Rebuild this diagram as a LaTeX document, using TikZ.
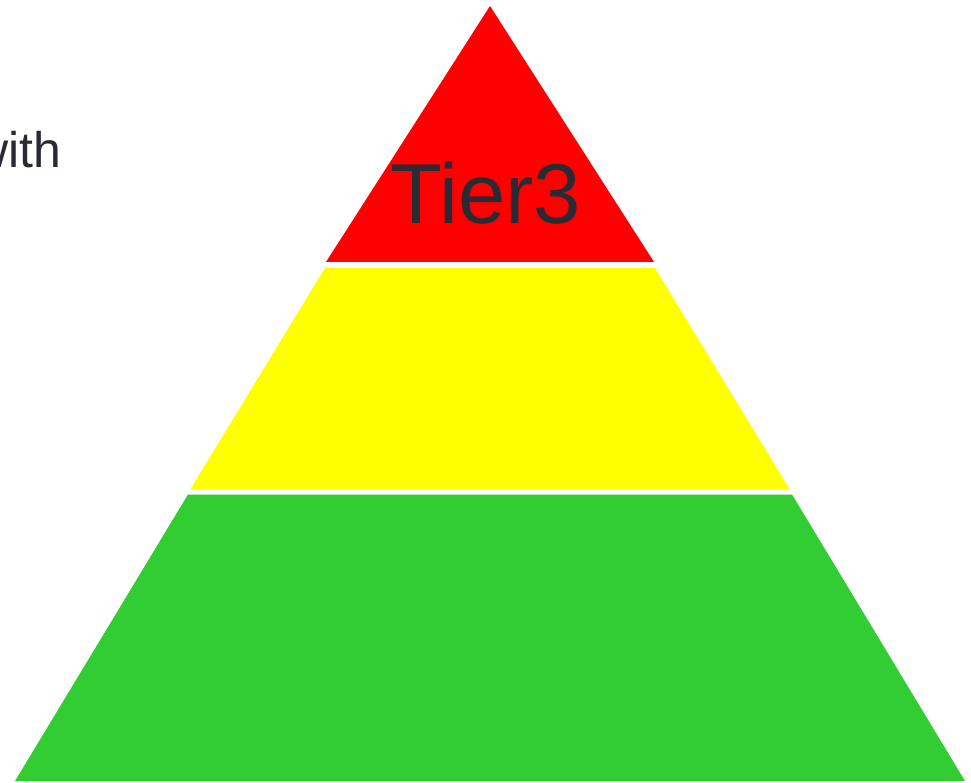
\documentclass[tikz,border=0pt]{standalone}
\usepackage{fontspec}
\setmainfont{Liberation Sans}
\definecolor{tierred}{HTML}{FF0000}
\definecolor{tieryellow}{HTML}{FFFF00}
\definecolor{tiergreen}{HTML}{32CD32}
\definecolor{txtdark}{HTML}{2A2A35}
\tikzset{
  band/.style={draw=none},
  bigtext/.style={text=txtdark, inner sep=0pt, anchor=base, font=\fontsize{85}{100}\selectfont},
  sidetext/.style={text=txtdark, inner sep=0pt, anchor=base east, font=\fontsize{50}{60}\selectfont}
}
\begin{document}
\begin{tikzpicture}[x=1pt,y=-1pt]
\useasboundingbox (0,0) rectangle (971,783);
\fill[tierred, band] (490,6) -- (654,262) -- (326,262) -- cycle;
\fill[tieryellow, band] (325,268) -- (655,268) -- (789.5,489) -- (190.5,489) -- cycle;
\fill[tiergreen, band] (188,494.5) -- (792,494.5) -- (965,781) -- (15,781) -- cycle;
\node[bigtext] (tier3) at (486,224) {Tier3};
\node[sidetext] (with) at (61.5,168) {with};
\end{tikzpicture}
\end{document}
